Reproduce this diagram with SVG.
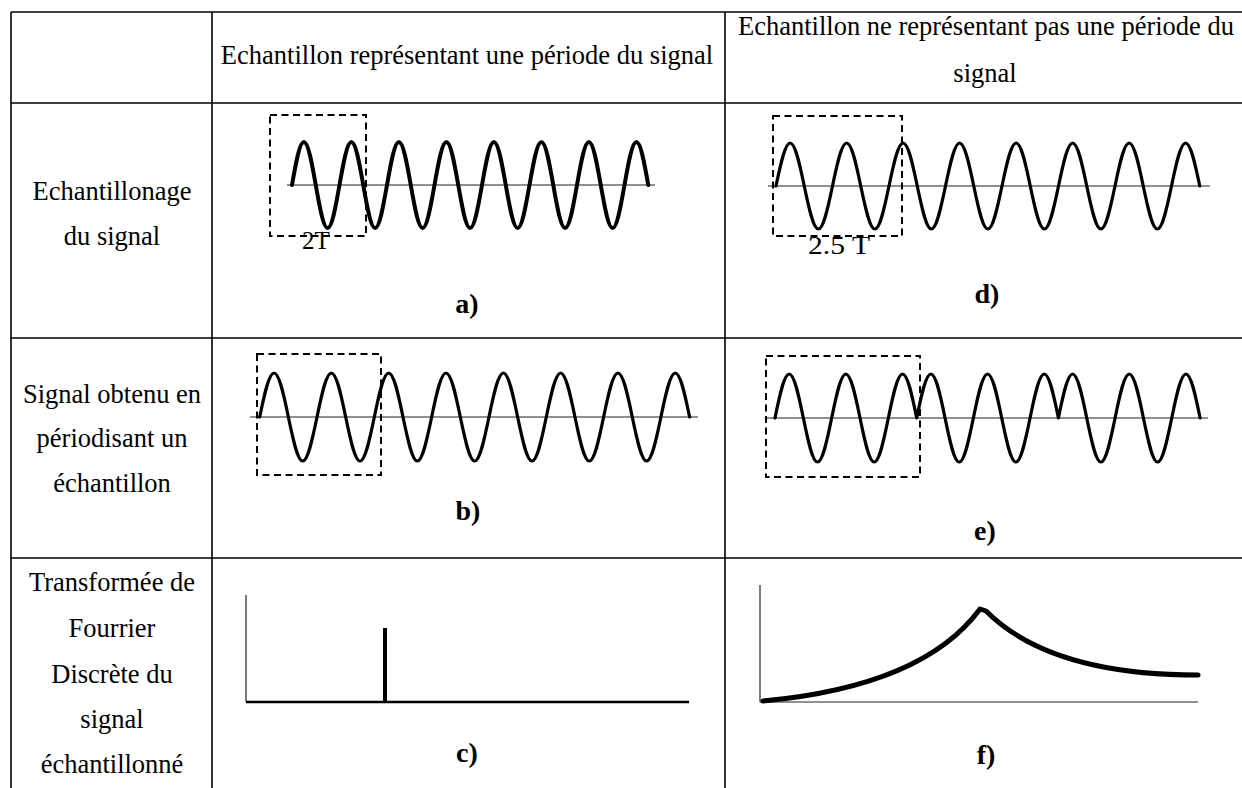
<svg xmlns="http://www.w3.org/2000/svg" width="1242" height="788" viewBox="0 0 1242 788">
<style>
.grid{stroke:#000;stroke-width:1.6;fill:none}
.t{font-family:"Liberation Serif","Times New Roman",serif;font-size:26.5px;fill:#000;text-anchor:middle}
.lbl{font-family:"Liberation Serif","Times New Roman",serif;font-size:28px;font-weight:bold;fill:#000;text-anchor:middle}
.ann{font-family:"Liberation Serif","Times New Roman",serif;font-size:25px;fill:#000}
.axis{stroke:#222;stroke-width:1.2;fill:none}
.wave{stroke:#000;stroke-width:3.2;fill:none;stroke-linejoin:round;stroke-linecap:round}
.box{stroke:#000;stroke-width:2;fill:none;stroke-dasharray:7 4.5}
</style>
<rect width="1242" height="788" fill="#fff"/>
<g id="table">
<line class="grid" x1="11" y1="12" x2="1242" y2="12"/>
<line class="grid" x1="11" y1="103" x2="1242" y2="103"/>
<line class="grid" x1="11" y1="338" x2="1242" y2="338"/>
<line class="grid" x1="11" y1="558" x2="1242" y2="558"/>
<line class="grid" x1="11" y1="12" x2="11" y2="788"/>
<line class="grid" x1="212" y1="12" x2="212" y2="788"/>
<line class="grid" x1="725" y1="12" x2="725" y2="788"/>
</g>
<g id="header">
<text class="t" x="467" y="64">Echantillon représentant une période du signal</text>
<text class="t" x="986" y="35">Echantillon ne représentant pas une période du</text>
<text class="t" x="985" y="82">signal</text>
</g>
<g id="row-labels">
<text class="t" x="112" y="200">Echantillonage</text>
<text class="t" x="112" y="245">du signal</text>
<text class="t" x="112" y="403">Signal obtenu en</text>
<text class="t" x="112" y="447">périodisant un</text>
<text class="t" x="112" y="492">échantillon</text>
<text class="t" x="112" y="591">Transformée de</text>
<text class="t" x="112" y="637">Fourrier</text>
<text class="t" x="112" y="683">Discrète du</text>
<text class="t" x="112" y="728">signal</text>
<text class="t" x="112" y="773">échantillonné</text>
</g>
<g id="plot-a">
<line class="axis" x1="287" y1="185" x2="655" y2="185"/>
<rect class="box" x="270" y="115" width="96" height="121"/>
<path class="wave" style="stroke-width:4" d="M292,185 c3.87,-22.02 7.58,-43 11.875,-43 4.3,0 8,20.98 11.875,43 3.87,22.02 7.58,43 11.875,43 4.3,0 8,-20.98 11.875,-43 3.87,-22.02 7.58,-43 11.875,-43 4.3,0 8,20.98 11.875,43 3.87,22.02 7.58,43 11.875,43 4.3,0 8,-20.98 11.875,-43 3.87,-22.02 7.58,-43 11.875,-43 4.3,0 8,20.98 11.875,43 3.87,22.02 7.58,43 11.875,43 4.3,0 8,-20.98 11.875,-43 3.87,-22.02 7.58,-43 11.875,-43 4.3,0 8,20.98 11.875,43 3.87,22.02 7.58,43 11.875,43 4.3,0 8,-20.98 11.875,-43 3.87,-22.02 7.58,-43 11.875,-43 4.3,0 8,20.98 11.875,43 3.87,22.02 7.58,43 11.875,43 4.3,0 8,-20.98 11.875,-43 3.87,-22.02 7.58,-43 11.875,-43 4.3,0 8,20.98 11.875,43 3.87,22.02 7.58,43 11.875,43 4.3,0 8,-20.98 11.875,-43 3.87,-22.02 7.58,-43 11.875,-43 4.3,0 8,20.98 11.875,43 3.87,22.02 7.58,43 11.875,43 4.3,0 8,-20.98 11.875,-43 3.87,-22.02 7.58,-43 11.875,-43 4.3,0 8,20.98 11.875,43"/>
<text class="ann" x="302" y="249">2T</text>
<text class="lbl" x="467" y="313">a)</text>
</g>
<g id="plot-d">
<line class="axis" x1="768" y1="186" x2="1210" y2="186"/>
<rect class="box" x="773" y="116" width="129" height="120"/>
<path class="wave" d="M776,186 c4.6,-22.02 9.01,-43 14.125,-43 5.11,0 9.52,20.98 14.125,43 4.6,22.02 9.01,43 14.125,43 5.11,0 9.52,-20.98 14.125,-43 4.6,-22.02 9.01,-43 14.125,-43 5.11,0 9.52,20.98 14.125,43 4.6,22.02 9.01,43 14.125,43 5.11,0 9.52,-20.98 14.125,-43 4.6,-22.02 9.01,-43 14.125,-43 5.11,0 9.52,20.98 14.125,43 4.6,22.02 9.01,43 14.125,43 5.11,0 9.52,-20.98 14.125,-43 4.6,-22.02 9.01,-43 14.125,-43 5.11,0 9.52,20.98 14.125,43 4.6,22.02 9.01,43 14.125,43 5.11,0 9.52,-20.98 14.125,-43 4.6,-22.02 9.01,-43 14.125,-43 5.11,0 9.52,20.98 14.125,43 4.6,22.02 9.01,43 14.125,43 5.11,0 9.52,-20.98 14.125,-43 4.6,-22.02 9.01,-43 14.125,-43 5.11,0 9.52,20.98 14.125,43 4.6,22.02 9.01,43 14.125,43 5.11,0 9.52,-20.98 14.125,-43 4.6,-22.02 9.01,-43 14.125,-43 5.11,0 9.52,20.98 14.125,43 4.6,22.02 9.01,43 14.125,43 5.11,0 9.52,-20.98 14.125,-43 4.6,-22.02 9.01,-43 14.125,-43 5.11,0 9.52,20.98 14.125,43"/>
<text class="ann" x="808" y="254" textLength="62" lengthAdjust="spacingAndGlyphs">2.5 T</text>
<text class="lbl" x="987" y="303">d)</text>
</g>
<g id="plot-b">
<line class="axis" x1="250" y1="417" x2="698" y2="417"/>
<rect class="box" x="257" y="354" width="124" height="121"/>
<path class="wave" d="M259.7,417 c4.67,-22.53 9.14,-44 14.33,-44 5.19,0 9.66,21.47 14.33,44 4.67,22.53 9.14,44 14.33,44 5.19,0 9.66,-21.47 14.33,-44 4.67,-22.53 9.14,-44 14.33,-44 5.19,0 9.66,21.47 14.33,44 4.67,22.53 9.14,44 14.33,44 5.19,0 9.66,-21.47 14.33,-44 4.67,-22.53 9.14,-44 14.33,-44 5.19,0 9.66,21.47 14.33,44 4.67,22.53 9.14,44 14.33,44 5.19,0 9.66,-21.47 14.33,-44 4.67,-22.53 9.14,-44 14.33,-44 5.19,0 9.66,21.47 14.33,44 4.67,22.53 9.14,44 14.33,44 5.19,0 9.66,-21.47 14.33,-44 4.67,-22.53 9.14,-44 14.33,-44 5.19,0 9.66,21.47 14.33,44 4.67,22.53 9.14,44 14.33,44 5.19,0 9.66,-21.47 14.33,-44 4.67,-22.53 9.14,-44 14.33,-44 5.19,0 9.66,21.47 14.33,44 4.67,22.53 9.14,44 14.33,44 5.19,0 9.66,-21.47 14.33,-44 4.67,-22.53 9.14,-44 14.33,-44 5.19,0 9.66,21.47 14.33,44 4.67,22.53 9.14,44 14.33,44 5.19,0 9.66,-21.47 14.33,-44 4.67,-22.53 9.14,-44 14.33,-44 5.19,0 9.66,21.47 14.33,44"/>
<text class="lbl" x="468" y="520">b)</text>
</g>
<g id="plot-e">
<line class="axis" x1="765" y1="418" x2="1208" y2="418"/>
<rect class="box" x="766" y="356" width="154" height="121"/>
<path class="wave" d="M775,418 c4.62,-22.53 9.04,-44 14.17,-44 5.13,0 9.55,21.47 14.17,44 4.62,22.53 9.04,44 14.17,44 5.13,0 9.55,-21.47 14.17,-44 4.62,-22.53 9.04,-44 14.17,-44 5.13,0 9.55,21.47 14.17,44 4.62,22.53 9.04,44 14.17,44 5.13,0 9.55,-21.47 14.17,-44 4.62,-22.53 9.04,-44 14.17,-44 5.13,0 9.55,21.47 14.17,44 4.62,-22.53 9.04,-44 14.17,-44 5.13,0 9.55,21.47 14.17,44 4.62,22.53 9.04,44 14.17,44 5.13,0 9.55,-21.47 14.17,-44 4.62,-22.53 9.04,-44 14.17,-44 5.13,0 9.55,21.47 14.17,44 4.62,22.53 9.04,44 14.17,44 5.13,0 9.55,-21.47 14.17,-44 4.62,-22.53 9.04,-44 14.17,-44 5.13,0 9.55,21.47 14.17,44 4.62,-22.53 9.04,-44 14.17,-44 5.13,0 9.55,21.47 14.17,44 4.62,22.53 9.04,44 14.17,44 5.13,0 9.55,-21.47 14.17,-44 4.62,-22.53 9.04,-44 14.17,-44 5.13,0 9.55,21.47 14.17,44 4.62,22.53 9.04,44 14.17,44 5.13,0 9.55,-21.47 14.17,-44 4.62,-22.53 9.04,-44 14.17,-44 5.13,0 9.55,21.47 14.17,44"/>
<text class="lbl" x="985" y="540">e)</text>
</g>
<g id="plot-c">
<line class="axis" x1="246" y1="595" x2="246" y2="702"/>
<line class="axis" style="stroke-width:2.4;stroke:#000" x1="246" y1="702" x2="689" y2="702"/>
<line stroke="#000" stroke-width="4" x1="385" y1="628" x2="385" y2="702"/>
<text class="lbl" x="467" y="762">c)</text>
</g>
<g id="plot-f">
<line class="axis" x1="760" y1="585" x2="760" y2="702"/>
<line class="axis" x1="760" y1="702" x2="1198" y2="702"/>
<path class="wave" style="stroke-width:5" d="M763,701 C850,693 935,670 980,609 L986,611 C1020,645 1080,675 1198,675"/>
<text class="lbl" x="986" y="764">f)</text>
</g>
<g id="connectors"/>
</svg>
